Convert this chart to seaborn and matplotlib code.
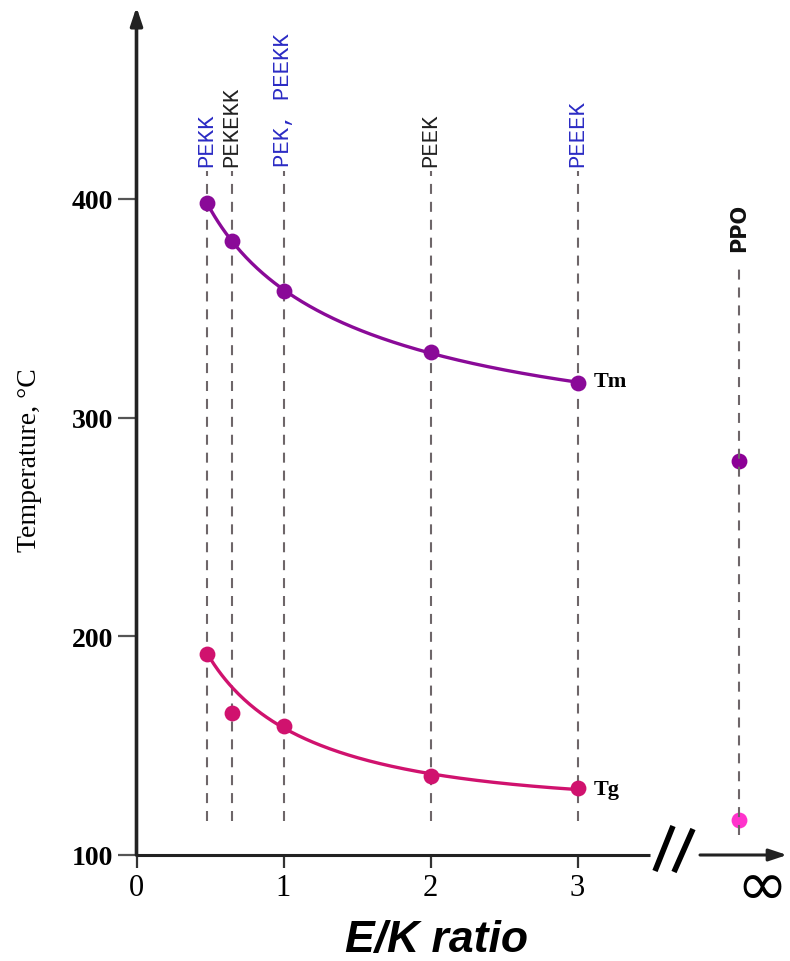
import numpy as np
import pandas as pd
import matplotlib
matplotlib.use("Agg")
import matplotlib.pyplot as plt
import seaborn as sns

# ---- data ----
polymers = ["PEKK", "PEKEKK", "PEK, PEEKK", "PEEK", "PEEEK"]
label_colors = ["#2b2bc4", "#222222", "#2b2bc4", "#222222", "#2b2bc4"]
ek_ratio = [0.48, 0.65, 1.0, 2.0, 3.0]
tm_values = [398, 381, 358, 330, 316]
tg_values = [192, 165, 159, 136, 130.5]
tg_on_curve = [True, False, True, True, True]
ppo_x = 4.1
ppo_tm = 280
ppo_tg = 116
x_ticks = [0, 1, 2, 3]
y_ticks = [100, 200, 300, 400]

TM_COLOR = "#8a0a98"
TG_COLOR = "#d0126e"
PPO_TM_COLOR = "#8c0096"
PPO_TG_COLOR = "#ff33cc"
DASH_COLOR = "#6e6669"

sns.set_theme(style="white")
plt.rcParams["font.family"] = ["Liberation Serif", "DejaVu Serif"]
plt.rcParams["text.color"] = "black"
plt.rcParams["xtick.color"] = "black"
plt.rcParams["ytick.color"] = "black"

W, H = 790, 962
fig = plt.figure(figsize=(W / 100, H / 100), dpi=100)
x0px, xscale = 136.5, 147.0
y100px, yscale = 856.0, 2.1867
ax = fig.add_axes([x0px / W, (H - y100px) / H, (W - x0px) / W, y100px / H])
ax.set_xlim(0, (W - x0px) / xscale)
ax.set_ylim(100, 100 + y100px / yscale)

def px2x(p):
    return (p - x0px) / xscale

def py2y(p):
    return 100 + (y100px - p) / yscale

for s in ax.spines.values():
    s.set_visible(False)

# dashed guide lines
y_dash_lo, y_dash_hi = py2y(822), py2y(172)
for xv in ek_ratio:
    ax.plot([xv, xv], [y_dash_lo, y_dash_hi], color=DASH_COLOR, lw=1.5,
            ls=(0, (4.8, 3.8)), zorder=1)

# smooth fitted trend curves (quadratic in log x)
df = pd.DataFrame({"x": ek_ratio, "tm": tm_values, "tg": tg_values, "on": tg_on_curve})
xs = np.linspace(min(ek_ratio), max(ek_ratio), 200)
ctm = np.polyfit(np.log(df["x"]), df["tm"], 2)
dg = df[df["on"]]
ctg = np.polyfit(np.log(dg["x"]), dg["tg"], 2)
curves = pd.DataFrame({"x": xs, "tm": np.polyval(ctm, np.log(xs)), "tg": np.polyval(ctg, np.log(xs))})
sns.lineplot(data=curves, x="x", y="tm", ax=ax, color=TM_COLOR, lw=2.4, zorder=3)
sns.lineplot(data=curves, x="x", y="tg", ax=ax, color=TG_COLOR, lw=2.4, zorder=3)

sns.scatterplot(data=df, x="x", y="tm", ax=ax, color=TM_COLOR, s=130, linewidth=0, zorder=4)
sns.scatterplot(data=df, x="x", y="tg", ax=ax, color=TG_COLOR, s=130, linewidth=0, zorder=4)

# PPO
ax.scatter([ppo_x], [ppo_tm], color=PPO_TM_COLOR, s=130, linewidth=0, zorder=2)
ax.scatter([ppo_x], [ppo_tg], color=PPO_TG_COLOR, s=130, linewidth=0, zorder=2)
ax.plot([ppo_x, ppo_x], [py2y(836), py2y(265)], color=DASH_COLOR, lw=1.5,
        ls=(0, (4.8, 3.8)), zorder=3)
ax.text(ppo_x, py2y(252), "PPO", rotation=90, ha="center", va="bottom",
        fontsize=15, fontweight="bold", family=["DejaVu Sans"], color="#111111")

# polymer labels
for xv, name, c in zip(ek_ratio, polymers, label_colors):
    ax.text(xv, py2y(167), name, rotation=90, ha="center", va="bottom",
            fontsize=16, family=["Liberation Mono", "DejaVu Sans Mono"], color=c)

# curve labels
ax.text(px2x(594), py2y(387), "Tm", ha="left", va="baseline", fontsize=16, fontweight="bold")
ax.text(px2x(594), py2y(795), "Tg", ha="left", va="baseline", fontsize=16, fontweight="bold")

# axes lines with arrows
ax.annotate("", xy=(0, py2y(8)), xytext=(0, 100),
            arrowprops=dict(arrowstyle="-|>,head_length=0.9,head_width=0.3", lw=2.6, color="#222222",
                            shrinkA=0, shrinkB=0), annotation_clip=False, zorder=5)
ax.plot([0, px2x(650)], [100, 100], color="#222222", lw=2.2, solid_capstyle="butt", clip_on=False, zorder=5)
ax.annotate("", xy=(px2x(787), 100), xytext=(px2x(700), 100),
            arrowprops=dict(arrowstyle="-|>,head_length=0.9,head_width=0.3", lw=2.2, color="#222222",
                            shrinkA=0, shrinkB=0), annotation_clip=False, zorder=5)
ax.plot([px2x(673), px2x(655)], [py2y(827), py2y(872)], color="black", lw=4, clip_on=False,
        solid_capstyle="butt")
ax.plot([px2x(693), px2x(674)], [py2y(830), py2y(873)], color="black", lw=4, clip_on=False,
        solid_capstyle="butt")

# ticks
ax.set_xticks(x_ticks)
ax.set_xticklabels([str(v) for v in x_ticks], fontsize=22)
ax.set_yticks(y_ticks)
ax.set_yticklabels([str(v) for v in y_ticks], fontsize=20, fontweight="bold")
ax.tick_params(axis="x", direction="out", length=9, width=1.6, color="#333333", labelcolor="black",
               pad=4, bottom=True)
ax.tick_params(axis="y", direction="out", length=14, width=1.6, color="#555555", labelcolor="black",
               pad=3, left=True)
ax.set_xlabel("")
ax.set_ylabel("")

fig.text(30 / W, 1 - 460 / H, "Temperature, °C", rotation=90, ha="center", va="center", fontsize=20)
fig.text(437 / W, 1 - 941 / H, "E/K ratio", ha="center", va="center", fontsize=32,
         fontweight="bold", style="italic", family=["Liberation Sans", "DejaVu Sans"])
fig.text(762 / W, 1 - 889 / H, "∞", ha="center", va="center", fontsize=44,
         family=["DejaVu Sans"], color="black")

fig.savefig("out.png", dpi=100)
